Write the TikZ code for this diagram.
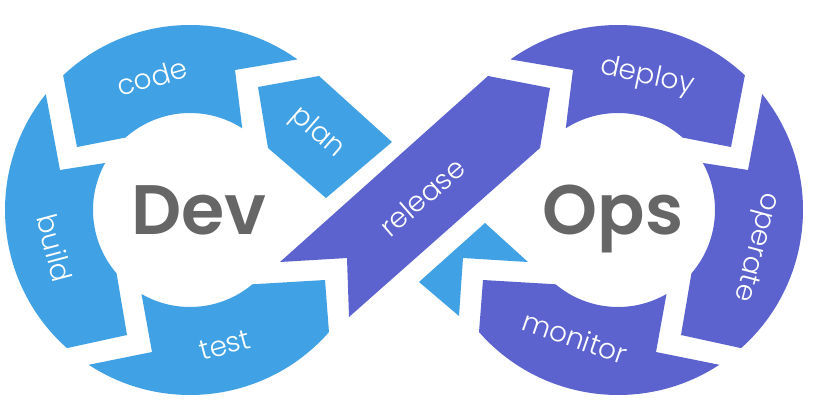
\documentclass[tikz,border=0pt]{standalone}
\usepackage{fontspec}
\setmainfont{Poppins}
\IfFontExistsTF{Poppins Light}{\newfontfamily\steplight{Poppins Light}}{\newfontfamily\steplight{Poppins}}
\IfFontExistsTF{Poppins SemiBold}{\newfontfamily\wordheavy{Poppins SemiBold}}{\newfontfamily\wordheavy{Poppins}[UprightFont=*,BoldFont=*]\let\wordheavyorig\wordheavy\def\wordheavy{\wordheavyorig\bfseries}}
\definecolor{devblue}{RGB}{64,162,228}
\definecolor{opspurple}{RGB}{92,98,206}
\definecolor{wordgrey}{RGB}{102,102,102}
\newcommand\ringsegs{%
  \fill (54.5:185) arc[start angle=54.5,end angle=133.3,radius=185] -- (-113,63) -- (131.7:97) arc[start angle=131.7,end angle=57.4,radius=97] -- (45,140) -- cycle;
  \fill (141.2:185) arc[start angle=141.2,end angle=228.3,radius=185] -- (-63,-125) -- (220.8:97) arc[start angle=220.8,end angle=151,radius=97] -- (-130,40) -- cycle;
  \fill (236.8:185) arc[start angle=236.8,end angle=318.7,radius=185] -- (135,-70) -- (310:97) arc[start angle=310,end angle=240,radius=97] -- (-38,-142) -- cycle;
}
\tikzset{
  steplabel/.style={text=white,font=\steplight\fontsize{28}{28}\selectfont,inner sep=0pt},
  bigword/.style={text=wordgrey,font=\wordheavy\fontsize{70}{70}\selectfont,inner sep=0pt,anchor=base}
}
\begin{document}
\begin{tikzpicture}[x=1pt,y=1pt]
\useasboundingbox (0,0) rectangle (829,418);
\fill[white] (0,0) rectangle (829,418);
% left loop
\begin{scope}[shift={(190,208)},devblue]
  \ringsegs
  \fill (68,123) -- (129,134) -- (202,68) -- (136,12) -- (78,62) -- cycle;
  \fill (295,-13) -- (338,-52) -- (273,-48) -- (269,-106) -- (229,-72) -- cycle;
  \fill[opspurple] (90,-52) -- (298,134) -- (360,122) -- (350,62) -- (159,-107) -- (157,-48) -- cycle;
\end{scope}
% right loop (mirror)
\begin{scope}[shift={(618,208)},xscale=-1,opspurple]
  \ringsegs
\end{scope}
% labels
\node[steplabel,rotate=16] (code) at (152,341) {code};
\node[steplabel,rotate=-41] (plan) at (317,285) {plan};
\node[steplabel,rotate=-75] (build) at (55,170) {build};
\node[steplabel,rotate=15] (test) at (225,73) {test};
\node[steplabel,rotate=41] (release) at (422,221) {release};
\node[steplabel,rotate=-12] (deploy) at (647,341) {deploy};
\node[steplabel,rotate=-105] (operate) at (755,171) {operate};
\node[steplabel,rotate=-19] (monitor) at (575,81) {monitor};
\node[bigword] (dev) at (199,183) {Dev};
\node[bigword] (ops) at (613,183) {Ops};
\end{tikzpicture}
\end{document}
